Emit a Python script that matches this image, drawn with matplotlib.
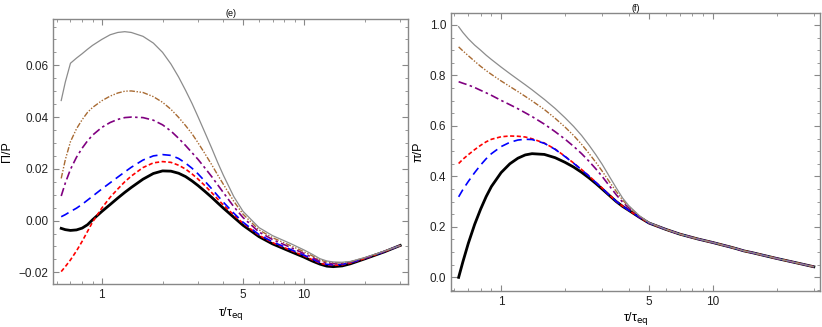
import matplotlib
matplotlib.use("Agg")
import matplotlib.pyplot as plt
from matplotlib.ticker import FixedLocator, FormatStrFormatter, FuncFormatter, LogLocator, NullFormatter, MultipleLocator

plt.rcParams["font.family"] = ["Liberation Sans", "DejaVu Sans"]

# sample times tau/tau_eq (shared by every curve)
tau = [0.63, 0.66, 0.7, 0.75, 0.8, 0.85, 0.9, 1.0, 1.1, 1.2, 1.3, 1.4, 1.6, 1.8, 2.0,
       2.2, 2.4, 2.6, 2.8, 3.0, 3.25, 3.5, 3.75, 4.0, 4.5, 5.0, 6.0, 7.0, 8.5, 10,
       11, 12, 13, 14, 15.5, 17, 20, 25, 30]

# panel (e): bulk pressure Pi/P
bulk_black = [-0.0030, -0.0035, -0.0038, -0.0036, -0.0029, -0.0016, 0.0003, 0.0035, 0.0062, 0.0087,
              0.0109, 0.0128, 0.0160, 0.0182, 0.0192, 0.0191, 0.0183, 0.0170, 0.0153, 0.0135,
              0.0112, 0.0090, 0.0068, 0.0048, 0.0013, -0.0018, -0.0062, -0.0090, -0.0118, -0.0141,
              -0.0156, -0.0168, -0.0176, -0.0178, -0.0175, -0.0167, -0.0148, -0.0121, -0.0096]
bulk_red = [-0.0197, -0.0178, -0.0152, -0.0117, -0.0080, -0.0042, -0.0006, 0.0048, 0.0090, 0.0122,
            0.0150, 0.0172, 0.0205, 0.0223, 0.0228, 0.0225, 0.0214, 0.0199, 0.0180, 0.0160,
            0.0134, 0.0108, 0.0083, 0.0060, 0.0022, -0.0010, -0.0057, -0.0085, -0.0113, -0.0136,
            -0.0151, -0.0164, -0.0171, -0.0173, -0.0171, -0.0164, -0.0147, -0.0120, -0.0096]
bulk_blue = [0.0015, 0.0023, 0.0035, 0.0048, 0.0063, 0.0079, 0.0094, 0.0122, 0.0146, 0.0168,
             0.0188, 0.0206, 0.0234, 0.0250, 0.0255, 0.0252, 0.0240, 0.0222, 0.0202, 0.0180,
             0.0151, 0.0123, 0.0096, 0.0071, 0.0029, -0.0006, -0.0054, -0.0082, -0.0110, -0.0133,
             -0.0148, -0.0162, -0.0169, -0.0171, -0.0169, -0.0163, -0.0146, -0.0120, -0.0096]
bulk_purple = [0.0095, 0.0145, 0.0198, 0.0245, 0.0280, 0.0308, 0.0330, 0.0360, 0.0379, 0.0391,
               0.0398, 0.0400, 0.0398, 0.0388, 0.0370, 0.0346, 0.0318, 0.0290, 0.0262, 0.0236,
               0.0202, 0.0170, 0.0138, 0.0108, 0.0054, 0.0012, -0.0044, -0.0073, -0.0102, -0.0127,
               -0.0142, -0.0157, -0.0164, -0.0167, -0.0166, -0.0161, -0.0145, -0.0119, -0.0096]
bulk_brown = [0.0163, 0.0235, 0.0305, 0.0355, 0.0390, 0.0418, 0.0437, 0.0463, 0.0481, 0.0493,
              0.0500, 0.0501, 0.0495, 0.0479, 0.0457, 0.0430, 0.0399, 0.0367, 0.0335, 0.0300,
              0.0257, 0.0216, 0.0176, 0.0140, 0.0075, 0.0025, -0.0036, -0.0066, -0.0095, -0.0120,
              -0.0136, -0.0152, -0.0160, -0.0163, -0.0163, -0.0159, -0.0144, -0.0119, -0.0096]
bulk_gray = [0.0464, 0.0535, 0.0608, 0.0628, 0.0645, 0.0662, 0.0677, 0.0700, 0.0718, 0.0727,
             0.0730, 0.0727, 0.0712, 0.0686, 0.0650, 0.0605, 0.0555, 0.0503, 0.0452, 0.0400,
             0.0338, 0.0280, 0.0224, 0.0175, 0.0093, 0.0036, -0.0027, -0.0058, -0.0087, -0.0113,
             -0.0130, -0.0147, -0.0156, -0.0160, -0.0161, -0.0158, -0.0143, -0.0118, -0.0096]

# panel (f): shear pi/P
shear_black = [0.000, 0.062, 0.135, 0.210, 0.270, 0.320, 0.360, 0.415, 0.450, 0.472,
               0.485, 0.490, 0.487, 0.474, 0.456, 0.437, 0.416, 0.394, 0.372, 0.350,
               0.324, 0.300, 0.281, 0.266, 0.238, 0.215, 0.190, 0.171, 0.152, 0.138,
               0.129, 0.121, 0.113, 0.105, 0.097, 0.089, 0.075, 0.057, 0.042]
shear_red = [0.451, 0.468, 0.486, 0.506, 0.523, 0.537, 0.547, 0.557, 0.560, 0.559,
             0.556, 0.549, 0.532, 0.508, 0.480, 0.453, 0.427, 0.402, 0.377, 0.354,
             0.326, 0.301, 0.282, 0.266, 0.238, 0.215, 0.190, 0.171, 0.152, 0.138,
             0.129, 0.121, 0.113, 0.105, 0.097, 0.089, 0.075, 0.057, 0.042]
shear_blue = [0.319, 0.348, 0.380, 0.415, 0.445, 0.470, 0.490, 0.518, 0.535, 0.544,
              0.547, 0.546, 0.531, 0.507, 0.479, 0.452, 0.426, 0.401, 0.376, 0.353,
              0.325, 0.301, 0.282, 0.266, 0.238, 0.215, 0.190, 0.171, 0.152, 0.138,
              0.129, 0.121, 0.113, 0.105, 0.097, 0.089, 0.075, 0.057, 0.042]
shear_purple = [0.775, 0.769, 0.762, 0.752, 0.741, 0.731, 0.721, 0.701, 0.684, 0.668,
                0.652, 0.637, 0.607, 0.577, 0.548, 0.519, 0.490, 0.460, 0.430, 0.400,
                0.362, 0.327, 0.298, 0.276, 0.241, 0.216, 0.190, 0.171, 0.152, 0.138,
                0.129, 0.121, 0.113, 0.105, 0.097, 0.089, 0.075, 0.057, 0.042]
shear_brown = [0.913, 0.897, 0.878, 0.856, 0.836, 0.819, 0.804, 0.778, 0.756, 0.736,
               0.717, 0.699, 0.665, 0.630, 0.596, 0.562, 0.527, 0.491, 0.456, 0.421,
               0.378, 0.340, 0.306, 0.281, 0.243, 0.216, 0.190, 0.171, 0.152, 0.138,
               0.129, 0.121, 0.113, 0.105, 0.097, 0.089, 0.075, 0.057, 0.042]
shear_gray = [0.993, 0.970, 0.945, 0.920, 0.900, 0.880, 0.863, 0.833, 0.807, 0.784,
              0.763, 0.743, 0.705, 0.669, 0.633, 0.598, 0.562, 0.524, 0.486, 0.448,
              0.399, 0.354, 0.314, 0.285, 0.244, 0.217, 0.190, 0.171, 0.152, 0.138,
              0.129, 0.121, 0.113, 0.105, 0.097, 0.089, 0.075, 0.057, 0.042]

# drawn black first so the thin curves sit on top of it
styles = [
    dict(color="black", lw=2.0, ls="-"),
    dict(color="#ff0000", lw=1.2, ls=(0, (2.5, 1.5))),
    dict(color="#0000ff", lw=1.2, ls=(0, (5, 3))),
    dict(color="#800080", lw=1.2, ls=(0, (5, 2, 1.5, 2))),
    dict(color="#a86a32", lw=1.0, ls=(0, (4, 1.2, 1, 1.2, 1, 1.2))),
    dict(color="#8c8c8c", lw=0.9, ls="-"),
]

frame_col = "#888888"


def style_axes(ax, xlim, ylim, major, minor, ndec, pad):
    ax.set_xscale("log")
    ax.set_xlim(*xlim)
    ax.set_ylim(*ylim)
    ax.xaxis.set_major_locator(FixedLocator([1, 5, 10]))
    ax.xaxis.set_major_formatter(FormatStrFormatter("%g"))
    ax.xaxis.set_minor_locator(LogLocator(base=10, subs=range(2, 10)))
    ax.xaxis.set_minor_formatter(NullFormatter())
    ax.yaxis.set_major_locator(MultipleLocator(major))
    ax.yaxis.set_minor_locator(MultipleLocator(minor))
    ax.yaxis.set_major_formatter(
        FuncFormatter(lambda v, p: f"{v:.{ndec}f}".replace("-", "\u2212") if abs(v) > 1e-9 else f"{0:.{ndec}f}"))
    for s in ax.spines.values():
        s.set_color(frame_col)
        s.set_linewidth(1.0)
    ax.tick_params(which="both", direction="in", top=True, right=True,
                   color=frame_col, labelsize=8.5, labelcolor="#222222")
    ax.tick_params(which="major", length=4.5, width=0.8)
    ax.tick_params(which="minor", length=2.5, width=0.6)
    ax.set_xlabel(r"τ/τ$_{\mathrm{eq}}$", fontsize=9, labelpad=pad)


fig = plt.figure(figsize=(8.22, 3.27), dpi=100)
ax1 = fig.add_axes([0.0649, 0.1315, 0.4315, 0.8104])
ax2 = fig.add_axes([0.5487, 0.1101, 0.4493, 0.8492])

for vals, st in zip([bulk_black, bulk_red, bulk_blue, bulk_purple, bulk_brown, bulk_gray], styles):
    ax1.plot(tau, vals, **st)
for vals, st in zip([shear_black, shear_red, shear_blue, shear_purple, shear_brown, shear_gray], styles):
    ax2.plot(tau, vals, **st)

style_axes(ax1, (0.576, 32.8), (-0.0245, 0.0779), 0.02, 0.005, 2, 3)
style_axes(ax2, (0.58, 32.2), (-0.054, 1.046), 0.2, 0.05, 1, 1.5)
ax1.set_ylabel("Π/P", fontsize=9)
ax2.set_ylabel("π/P", fontsize=9)
ax1.set_title("(e)", fontsize=6.5, pad=2)
ax2.set_title("(f)", fontsize=6.5, pad=2)

fig.savefig("out.png", dpi=100)
